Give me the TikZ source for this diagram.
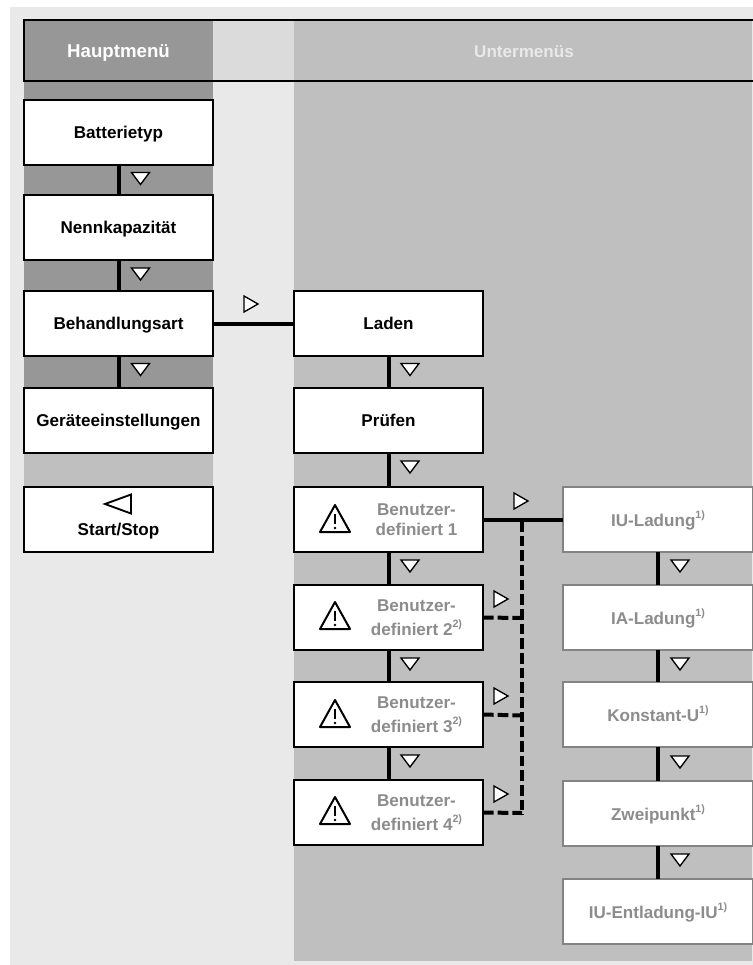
\documentclass[tikz,border=0pt]{standalone}
\usepackage{fontspec}
\setmainfont{Liberation Sans}
\definecolor{bgl}{HTML}{E9E9E9}
\definecolor{dark}{HTML}{979797}
\definecolor{mid}{HTML}{BFBFBF}
\definecolor{hl}{HTML}{DBDBDB}
\definecolor{tg}{HTML}{8C8C8C}
\definecolor{bg}{HTML}{838383}
\tikzset{
 x=0.75pt,y=-0.75pt,
 bx/.style={draw=black,line width=1.5pt,outer sep=0pt,fill=white,minimum width=141.75pt,minimum height=48.75pt,inner sep=0pt,align=center,font=\fontsize{12.8}{15}\selectfont\bfseries,anchor=north west},
 sl/.style={bx,text height=10.4pt,text depth=1.5pt},
 bxg/.style={bx,text=tg},
 bxr/.style={bx,draw=bg,line width=1.3pt,text=tg,minimum width=142.5pt,text height=12pt,text depth=1.4pt},
 conn/.style={draw=black,line width=3pt},
 dconn/.style={draw=black,line width=3pt,dash pattern=on 8pt off 3pt},
 tri/.style={draw=black,line width=1pt,fill=white,line join=miter},
 warn/.style={draw=black,line width=1.5pt,line join=round,fill=none}
}
\newcommand{\dtri}[2]{\draw[tri] (#1-9,#2-6) -- (#1+9,#2-6) -- (#1,#2+6) -- cycle;}
\newcommand{\rtri}[2]{\draw[tri] (#1-7,#2-8) -- (#1+7,#2) -- (#1-7,#2+8) -- cycle;}
\newcommand{\warnsign}[2]{\draw[warn] (#1-15,#2+12) -- (#1,#2-15) -- (#1+15,#2+12) -- cycle; \draw[line width=1.2pt] (#1,#2-6) -- (#1,#2+4); \fill (#1,#2+8) circle (1pt);}
\newcommand{\sss}[1]{\raisebox{6pt}{\fontsize{8}{8}\selectfont #1}}
\newcommand{\benu}[2]{\hspace*{42pt}\parbox{90pt}{\centering Benutzer-\\[#1]#2}}
\begin{document}
\begin{tikzpicture}
\useasboundingbox (0,0) rectangle (753,965);
\fill[white] (0,0) rectangle (753,965);
\fill[bgl] (10,7) rectangle (753,965);
\fill[mid] (294,81) rectangle (752,961);
\fill[dark] (24,81) rectangle (213,387);
\fill[mid] (24,453) rectangle (213,487);
% header
\fill[dark] (24,20) rectangle (213,81);
\fill[hl] (213,20) rectangle (294,81);
\fill[mid] (294,20) rectangle (752,81);
\draw[line width=1.5pt] (753,20) -- (24,20) -- (24,81) -- (753,81);
\node[text=white,font=\fontsize{14}{12}\selectfont\bfseries] (hm) at (118.5,52.5) {Hauptmenü};
\node[text=bgl,font=\fontsize{12.8}{12}\selectfont\bfseries] (um) at (524,52) {Untermenüs};
% left
\node[sl] (a1) at (24,100) {Batterietyp};
\node[sl] (a2) at (24,195) {Nennkapazität};
\node[sl] (a3) at (24,291) {Behandlungsart};
\node[sl] (a4) at (24,388) {Geräteeinstellungen};
\node[bx] (a5) at (24,487) {};
\node[font=\fontsize{12.8}{12}\selectfont\bfseries] (ss) at (118.5,531) {Start/Stop};
\draw[tri,line width=1.4pt] (131,494.5) -- (105,504) -- (131,513.5) -- cycle;
% middle
\node[sl] (b1) at (294,291) {Laden};
\node[sl] (b2) at (294,388) {Prüfen};
\node[bxg] (b3) at (294,487) {\benu{0.4pt}{definiert 1}};
\node[bxg] (b4) at (294,585) {\benu{3pt}{definiert 2\sss{2)}}};
\node[bxg] (b5) at (294,682) {\benu{3pt}{definiert 3\sss{2)}}};
\node[bxg] (b6) at (294,780) {\benu{3pt}{definiert 4\sss{2)}}};
% right
\node[bxr] (c1) at (563,487) {IU-Ladung\sss{1)}};
\node[bxr] (c2) at (563,585) {IA-Ladung\sss{1)}};
\node[bxr] (c3) at (563,682) {Konstant-U\sss{1)}};
\node[bxr] (c4) at (563,781) {Zweipunkt\sss{1)}};
\node[bxr] (c5) at (563,879) {IU-Entladung-IU\sss{1)}};
% connectors
\foreach \p/\q in {a1/a2,a2/a3,a3/a4,b1/b2,b2/b3,b3/b4,b4/b5,b5/b6,c1/c2,c2/c3,c3/c4,c4/c5}
  \draw[conn] (\p.south) -- (\q.north);
\draw[conn] (a3.east) -- (b1.west);
\draw[conn] (b3.east) -- (c1.west);
\coordinate (j) at (522,521);
\coordinate (k) at (522,815);
\draw[dconn] (j) -- (k);
\draw[dconn] (b4.east) -- (522,618);
\draw[dconn] (b5.east) -- (522,715.5);
\draw[dconn] (b6.east) -- (522,813) ;
% triangles
\dtri{140.5}{178.5}\dtri{140.5}{274}\dtri{140.5}{369.5}
\dtri{410}{369.5}\dtri{410}{467}\dtri{410}{566}\dtri{410}{664}\dtri{410}{761}
\dtri{680}{566}\dtri{680}{664}\dtri{680}{762}\dtri{680}{860}
\rtri{251}{304}\rtri{521}{501}\rtri{501}{599}\rtri{501}{696}\rtri{501}{794}
% warnings
\warnsign{335}{520}\warnsign{335}{617}\warnsign{335}{715}\warnsign{335}{812}
\end{tikzpicture}
\end{document}
